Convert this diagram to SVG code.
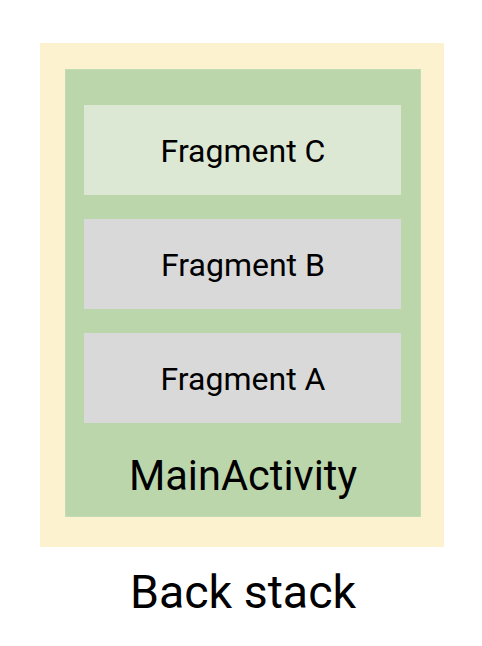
<svg xmlns="http://www.w3.org/2000/svg" width="482" height="646" viewBox="0 0 482 646">
<style>
.t{font-family:Roboto,"Liberation Sans",sans-serif;fill:#000;text-anchor:middle}
.f{font-size:32px}
.frag{fill:#d9d9d9}
</style>
<rect width="482" height="646" fill="#ffffff"/>
<g id="backstack">
<rect x="40" y="43" width="404" height="504" fill="#fdf2d0"/>
<text class="t" x="243" y="608" font-size="46.5">Back stack</text>
</g>
<g id="mainactivity">
<rect x="65.5" y="69.5" width="355" height="447" fill="#bcd6ac" stroke="#c4dcb4" stroke-width="1"/>
<text class="t" x="243" y="490" font-size="41.6">MainActivity</text>
</g>
<g id="fragmentC">
<rect x="84" y="105" width="317" height="90" fill="#dce8d4"/>
<text class="t f" x="243" y="162">Fragment C</text>
</g>
<g id="fragmentB">
<rect class="frag" x="84" y="219" width="317" height="90"/>
<text class="t f" x="243" y="276">Fragment B</text>
</g>
<g id="fragmentA">
<rect class="frag" x="84" y="333" width="317" height="90"/>
<text class="t f" x="243" y="390">Fragment A</text>
</g>
<g id="connectors"/>
</svg>
